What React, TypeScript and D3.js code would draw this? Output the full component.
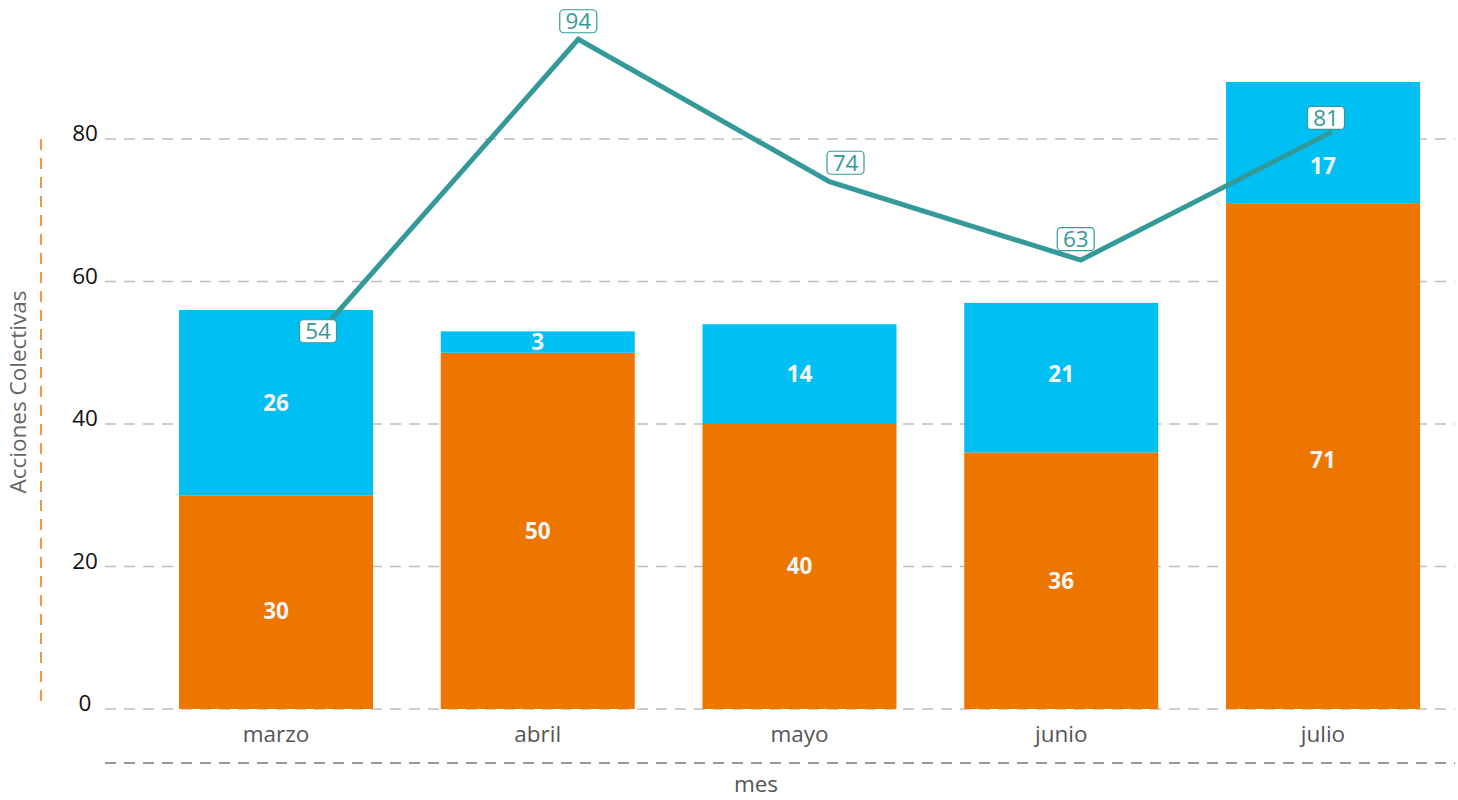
import React from "react";
import * as d3 from "d3";

const months = ["marzo", "abril", "mayo", "junio", "julio"];
const orangeValues = [30, 50, 40, 36, 71];
const blueValues = [26, 3, 14, 21, 17];
const lineValues = [54, 94, 74, 63, 81];
const yTicks = [0, 20, 40, 60, 80];

// label nudges (px) for the line value boxes
const labelNudge: [number, number][] = [[-9, 7], [0, -18], [16, -19], [-5, -21], [-6, -14]];
// vertical nudges (px) for the bar labels (avoid collisions)
const orangeLabelNudge = [9, 0, 0, 0, 4];
const blueLabelNudge = [0, 0, 0, -4, 24];

const W = 1458;
const H = 800;
const ORANGE = "#EC7600";
const BLUE = "#00C0F3";
const TEAL = "#339A99";
const FONT = "'Open Sans', 'Noto Sans', sans-serif";
const FS = 22.5;

export default function App() {
  const x = d3.scaleBand<string>().domain(months).range([145, 1454]).paddingInner(0.2588).paddingOuter(0.13);
  const xLine = d3.scalePoint<string>().domain(months).range([327, 1332]);
  const y = d3.scaleLinear().domain([0, 80]).range([709, 139]);

  const line = d3
    .line<number>()
    .x((_, i) => xLine(months[i]) as number)
    .y((d) => y(d));

  return (
    <svg width={W} height={H} style={{ position: "absolute", left: 0, top: 0, background: "#fff" }} fontFamily={FONT}>
      {/* gridlines */}
      {yTicks.map((t) => (
        <line key={"g" + t} x1={105} x2={1455} y1={y(t)} y2={y(t)} stroke="#bdbdbd" strokeWidth={1.5} strokeDasharray="11 8" />
      ))}
      {yTicks.map((t) => (
        <text key={"t" + t} x={85} y={y(t)} dy="0.1em" textAnchor="middle" fontSize={FS} fill="#111">
          {t}
        </text>
      ))}
      {/* y axis title and dashed orange line */}
      <line x1={41} x2={41} y1={139} y2={709} stroke={ORANGE} strokeWidth={1.5} strokeDasharray="11 8" />
      <text transform={`translate(26,392) rotate(-90)`} textAnchor="middle" fontSize={FS} fill="#666">
        Acciones Colectivas
      </text>
      {/* bars */}
      {months.map((m, i) => {
        const x0 = x(m) as number;
        const bw = x.bandwidth();
        const o = orangeValues[i];
        const b = blueValues[i];
        return (
          <g key={m}>
            <rect x={x0} width={bw} y={y(o)} height={y(0) - y(o)} fill={ORANGE} />
            <rect x={x0} width={bw} y={y(o + b)} height={y(o) - y(o + b)} fill={BLUE} />
            <text x={x0 + bw / 2} y={(y(0) + y(o)) / 2 + orangeLabelNudge[i]} dy="0.35em" textAnchor="middle" fontSize={FS} fontWeight="bold" fill="#f5f5f5">
              {o}
            </text>
            <text x={x0 + bw / 2} y={(y(o) + y(o + b)) / 2 + blueLabelNudge[i]} dy="0.35em" textAnchor="middle" fontSize={FS} fontWeight="bold" fill="#f5f5f5">
              {b}
            </text>
            <text x={x0 + bw / 2} y={742} textAnchor="middle" fontSize={FS} fill="#555">
              {m}
            </text>
          </g>
        );
      })}
      {/* bottom axis line and title */}
      <line x1={105} x2={1455} y1={763} y2={763} stroke="#777" strokeWidth={1.5} strokeDasharray="11 8" />
      <text x={756} y={792} textAnchor="middle" fontSize={FS} fill="#555">
        mes
      </text>
      {/* line */}
      <path d={line(lineValues) || ""} fill="none" stroke={TEAL} strokeWidth={5} strokeLinejoin="miter" />
      {lineValues.map((v, i) => {
        const cx = (xLine(months[i]) as number) + labelNudge[i][0];
        const cy = y(v) + labelNudge[i][1];
        return (
          <g key={"l" + i}>
            <rect x={cx - 18.5} y={cy - 11.5} width={37} height={23} rx={4} fill="#fff" stroke={TEAL} strokeWidth={1.2} />
            <text x={cx} y={cy} dy="0.36em" textAnchor="middle" fontSize={FS} fill={TEAL}>
              {v}
            </text>
          </g>
        );
      })}
    </svg>
  );
}
